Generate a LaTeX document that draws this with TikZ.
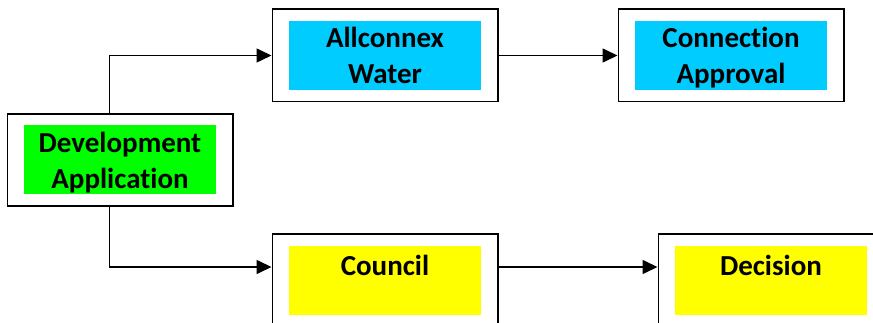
\documentclass[tikz,border=0pt]{standalone}
\usepackage{fontspec}
\setmainfont{Carlito}[Ligatures=NoCommon]
\usetikzlibrary{fit,arrows.meta}
\definecolor{appblue}{RGB}{0,204,255}
\definecolor{appgreen}{RGB}{0,255,0}
\definecolor{appyellow}{RGB}{255,255,0}

\begin{document}
\begin{tikzpicture}[x=1pt, y=-1pt,
      colbox/.style = {shape=rectangle, minimum width=192pt, minimum height=69pt,
        inner sep=0pt, align=center, font=\fontsize{29}{36}\selectfont\bfseries},
      bluebox/.style = {colbox, fill=appblue, text depth=-4pt},
      greenbox/.style = {colbox, fill=appgreen, text depth=-4pt},
      yellowbox/.style = {colbox, fill=appyellow, text height=20pt, text depth=29pt},
      frame/.style = {shape=rectangle, draw, line width=1.6pt,
        inner xsep=16.5pt, inner ysep=11.5pt},
      link/.style = {line width=1.6pt, -{Triangle[length=15pt,width=14pt]}}]
  \useasboundingbox (0,0) rectangle (873,323);
  \clip (0,0) rectangle (873,323);
  \node[greenbox] (dev) at (120,160) {Development\\Application};
  \node[bluebox] (allconnex) at (385,55.5) {Allconnex\\Water};
  \node[bluebox] (approval) at (731,55.5) {Connection\\Approval};
  \node[yellowbox] (council) at (385,280.5) {Council};
  \node[yellowbox] (decision) at (771,280.5) {Decision};
  \foreach \n in {dev,allconnex,approval,council,decision}
    \node[frame, fit=(\n)] (\n frame) {};
  \draw[link] ([xshift=-10.5pt]devframe.north) |- (allconnexframe.west);
  \draw[link] ([xshift=-10.5pt]devframe.south) |- ([yshift=13.5pt]councilframe.west);
  \draw[link] (allconnexframe) -- (approvalframe);
  \draw[link] ([yshift=13.5pt]councilframe.east) -- ([yshift=13.5pt]decisionframe.west);
\end{tikzpicture}
\end{document}
